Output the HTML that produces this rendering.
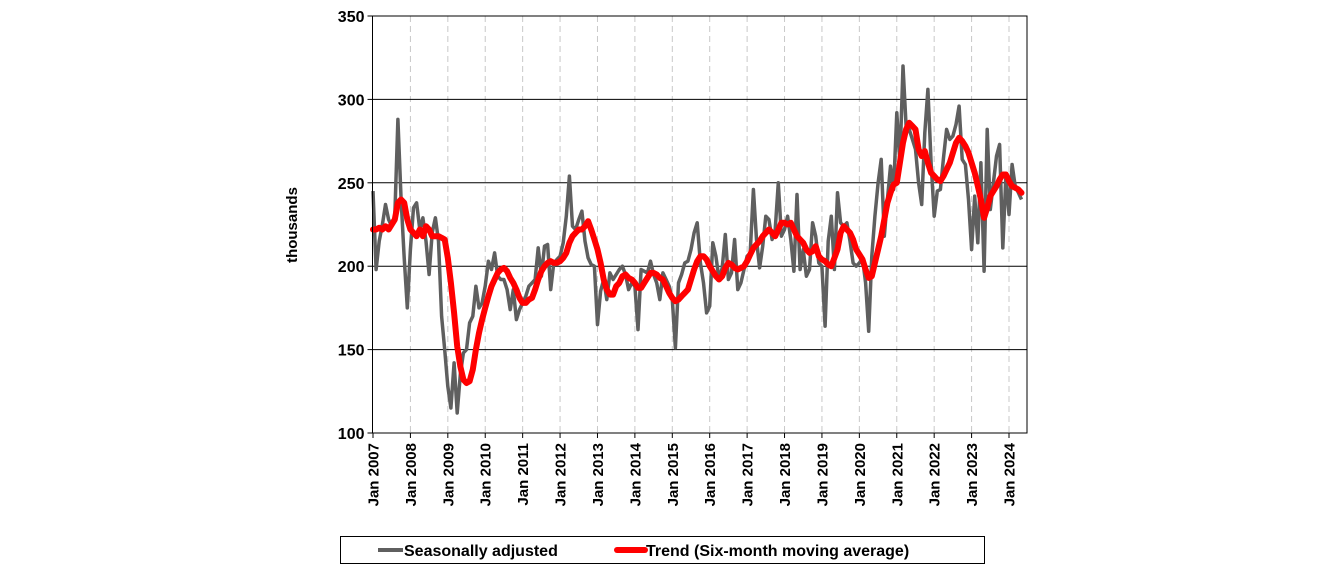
<!DOCTYPE html>
<html><head><meta charset="utf-8"><style>
body{margin:0;background:#fff;width:1324px;height:571px;overflow:hidden;font-family:"Liberation Sans",Arial,sans-serif}
svg text{font-family:"Liberation Sans",Arial,sans-serif;font-weight:bold;fill:#000}
</style></head><body>
<svg id="chart" width="1324" height="571" viewBox="0 0 1324 571" xmlns="http://www.w3.org/2000/svg">
<g id="grid"></g>
<g id="series"></g>
<g id="axes"></g>
<text transform="translate(297,225) rotate(-90)" text-anchor="middle" font-size="15">thousands</text>
<g>
<rect x="340.5" y="536.5" width="644" height="27" fill="#fff" stroke="#000" stroke-width="1"/>
<g>
<line x1="378" y1="550" x2="403" y2="550" stroke="#5f5f5f" stroke-width="4"/>
<text x="404" y="556" font-size="16">Seasonally adjusted</text></g>
<g>
<line x1="617" y1="550" x2="645" y2="550" stroke="#ff0000" stroke-width="6" stroke-linecap="round"/>
<text x="646" y="556" font-size="16">Trend (Six-month moving average)</text></g>
</g>
</svg>
<script>
const startYear = 2007;
const yTicks = [100,150,200,250,300,350];
const yearLabels = ["Jan 2007","Jan 2008","Jan 2009","Jan 2010","Jan 2011","Jan 2012","Jan 2013","Jan 2014","Jan 2015","Jan 2016","Jan 2017","Jan 2018","Jan 2019","Jan 2020","Jan 2021","Jan 2022","Jan 2023","Jan 2024"];
const seasonallyAdjusted = [
245,198,215,225,237,228,224,230,288,240,205,175,
210,235,238,222,229,215,195,220,229,215,170,150,
128,115,142,112,135,148,150,166,170,188,175,178,
188,203,198,208,194,192,192,186,174,186,168,174,
178,182,188,190,192,211,194,212,213,186,202,204,
206,214,230,254,224,222,228,233,215,205,201,200,
165,185,192,180,196,192,195,198,200,195,186,190,
188,162,198,197,196,203,195,190,180,196,192,188,
180,151,190,195,202,203,210,220,226,202,190,172,
176,214,206,192,199,219,192,196,216,186,190,198,
206,208,246,216,199,212,230,228,216,222,250,218,
222,230,216,197,243,198,210,194,198,226,218,202,
200,164,215,230,198,244,226,224,226,215,202,200,
202,205,190,161,206,230,250,264,218,240,260,246,
292,262,320,284,282,276,270,250,237,280,306,262,
230,245,246,265,282,276,278,285,296,264,261,240,
210,242,214,262,197,282,234,250,266,273,211,254,
231,261,248,244,240];
const trend = [
222,222,223,222,224,222,225,228,238,240,238,228,
222,220,218,222,218,224,222,218,218,218,217,216,
205,190,172,152,140,132,130,131,138,150,160,168,
175,182,188,192,196,198,199,197,193,190,186,181,
178,178,180,181,186,192,197,200,202,203,202,202,
203,205,208,214,218,220,222,222,224,227,222,216,
210,202,192,186,183,183,188,190,194,195,193,192,
190,187,187,190,193,196,196,195,193,192,188,184,
181,179,180,182,184,186,192,198,203,206,206,204,
200,197,194,192,194,199,202,201,199,198,199,200,
203,207,211,213,215,218,220,222,220,218,222,226,
226,225,226,222,218,216,214,210,208,209,212,206,
204,203,201,200,205,210,220,224,222,220,216,210,
207,204,198,193,194,202,210,218,228,238,244,249,
250,262,274,282,286,284,282,270,266,269,262,256,
254,252,251,254,258,262,268,274,277,275,272,268,
262,256,248,240,229,235,242,245,248,252,255,255,
251,248,247,246,244];

const L=372.5, R=1027, T=16, B=433;
const x = m => 373 + m*(1009-373)/204;
const y = v => B - (v-100)*(B-T)/250;
const NS="http://www.w3.org/2000/svg";
function mk(tag, parent, attrs){const e=document.createElementNS(NS,tag);for(const k in attrs)e.setAttribute(k,attrs[k]);parent.appendChild(e);return e;}
const grid=document.getElementById('grid'), axes=document.getElementById('axes'), series=document.getElementById('series');

yearLabels.forEach((lab,i)=>{
  const xx=x(i*12);
  if(i>0){const g=mk('line',grid,{x1:xx,y1:T,x2:xx,y2:B,stroke:'#c8c8c8','stroke-width':1,'stroke-dasharray':'6,4'});
  
  }
  const t=mk('line',axes,{x1:xx,y1:B,x2:xx,y2:B+5,stroke:'#000','stroke-width':1});
  
  
  const tx=mk('text',axes,{transform:`translate(${xx+5.5},443) rotate(-90)`,'text-anchor':'end','font-size':15});
  tx.textContent=lab;
  
  
});
yTicks.forEach(v=>{
  const yy=y(v);
  if(v>100&&v<350){const g=mk('line',grid,{x1:L,y1:yy,x2:R,y2:yy,stroke:'#000','stroke-width':1});
  
  }
  const t=mk('line',axes,{x1:L-5,y1:yy,x2:L,y2:yy,stroke:'#000','stroke-width':1});
  
  
  const tx=mk('text',axes,{x:L-8,y:yy+6,'text-anchor':'end','font-size':16});
  tx.textContent=v;
  
  
});
const fr=mk('rect',axes,{x:L,y:T,width:R-L,height:B-T,fill:'none',stroke:'#000','stroke-width':1});



const p1=mk('polyline',series,{points:seasonallyAdjusted.map((v,i)=>x(i).toFixed(1)+','+y(v).toFixed(1)).join(' '),fill:'none',stroke:'#5f5f5f','stroke-width':3.5,'stroke-linejoin':'round'});


const p2=mk('polyline',series,{points:trend.map((v,i)=>x(i).toFixed(1)+','+y(v).toFixed(1)).join(' '),fill:'none',stroke:'#ff0000','stroke-width':6,'stroke-linejoin':'round','stroke-linecap':'round'});


</script>
</body></html>
